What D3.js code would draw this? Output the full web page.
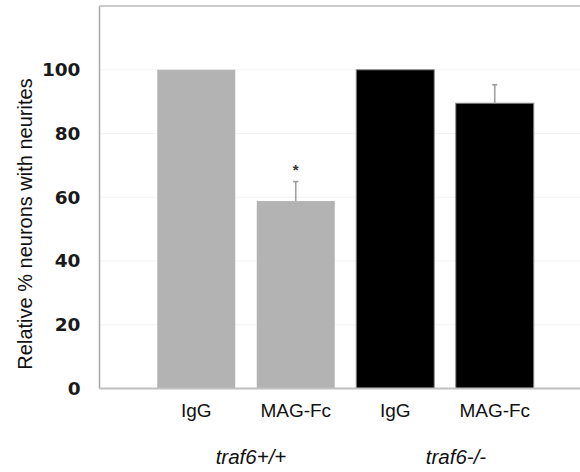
<!DOCTYPE html>
<html>
<head>
<meta charset="utf-8">
<script src="https://cdn.jsdelivr.net/npm/d3@7"></script>
<style>
  body { margin: 0; background: #fff; }
  svg { display: block; }
</style>
</head>
<body>
<svg id="chart" width="580" height="472"></svg>
<script>
// data
const barIds = ['wt-igg', 'wt-mag', 'ko-igg', 'ko-mag'];
const barLabels = ['IgG', 'MAG-Fc', 'IgG', 'MAG-Fc'];
const barGroups = ['traf6+/+', 'traf6+/+', 'traf6-/-', 'traf6-/-'];
const barValues = [100, 58.8, 100, 89.5];
const barErrors = [0, 6.1, 0, 5.8];
const starred = [false, true, false, false];
const groupNames = ['traf6+/+', 'traf6-/-'];
const yTicks = [0, 20, 40, 60, 80, 100];

const svg = d3.select('#chart');

const plotLeft = 99.5, plotTop = 6, plotBottom = 388.5, plotRight = 580;

const y = d3.scaleLinear().domain([0, 120]).range([plotBottom, plotTop]);
const x = d3.scaleBand()
    .domain(barIds)
    .range([146.5, 544.5])
    .paddingInner(0.216)
    .paddingOuter(0.108);

const groupColor = d3.scaleOrdinal()
    .domain(groupNames)
    .range(['#b3b3b3', '#000000']);

// faint grid lines
svg.append('g')
    .selectAll('line')
    .data(yTicks.filter(d => d > 0))
    .join('line')
    .attr('x1', plotLeft)
    .attr('x2', plotRight)
    .attr('y1', d => y(d))
    .attr('y2', d => y(d))
    .style('stroke', '#f3f3f3')
    .style('stroke-width', 1);

// bars
svg.append('g')
    .selectAll('rect')
    .data(barIds)
    .join('rect')
    .attr('x', d => x(d))
    .attr('y', (d, i) => y(barValues[i]))
    .attr('width', x.bandwidth())
    .attr('height', (d, i) => y(0) - y(barValues[i]))
    .style('fill', (d, i) => groupColor(barGroups[i]))
    .style('stroke', (d, i) => barGroups[i] === 'traf6-/-' ? '#8a8a8a' : 'none')
    .style('stroke-width', 1);

// error bars
const errs = svg.append('g');
barIds.forEach((id, i) => {
    if (barErrors[i] <= 0) return;
    const cx = x(id) + x.bandwidth() / 2;
    errs.append('line')
        .attr('x1', cx).attr('x2', cx)
        .attr('y1', y(barValues[i]))
        .attr('y2', y(barValues[i] + barErrors[i]))
        .style('stroke', '#a0a0a0')
        .style('stroke-width', 1.6);
    errs.append('line')
        .attr('x1', cx - 2.5).attr('x2', cx + 2.5)
        .attr('y1', y(barValues[i] + barErrors[i]))
        .attr('y2', y(barValues[i] + barErrors[i]))
        .style('stroke', '#999')
        .style('stroke-width', 1.6);
    if (starred[i]) {
        errs.append('text')
            .text('*')
            .attr('x', cx)
            .attr('y', y(barValues[i] + barErrors[i]) - 7)
            .attr('text-anchor', 'middle')
            .style('font-family', 'Liberation Sans, Arial, sans-serif')
            .style('font-weight', 'bold')
            .style('font-size', '15px')
            .style('fill', '#333');
    }
});

// frame
svg.append('line')
    .attr('x1', plotLeft).attr('x2', plotLeft)
    .attr('y1', plotTop).attr('y2', plotBottom)
    .style('stroke', '#a8a8a8').style('stroke-width', 1.5);
svg.append('line')
    .attr('x1', plotLeft).attr('x2', plotRight)
    .attr('y1', plotTop).attr('y2', plotTop)
    .style('stroke', '#cacaca').style('stroke-width', 2);
svg.append('line')
    .attr('x1', plotLeft).attr('x2', plotRight)
    .attr('y1', plotBottom).attr('y2', plotBottom)
    .style('stroke', '#c0c0c0').style('stroke-width', 2);

// y axis labels
const yAxis = d3.axisLeft(y).tickValues(yTicks).tickSize(0).tickPadding(19);
const gy = svg.append('g').attr('transform', `translate(${plotLeft},0)`).call(yAxis);
gy.select('.domain').remove();
gy.selectAll('text')
    .style('font-family', 'DejaVu Sans, Verdana, sans-serif')
    .style('font-weight', 'bold')
    .style('font-size', '18.5px')
    .style('fill', '#1a1a1a');

svg.append('text')
    .text('Relative % neurons with neurites')
    .attr('transform', 'translate(31.5,224) rotate(-90)')
    .attr('text-anchor', 'middle')
    .style('font-family', 'Liberation Sans, Arial, sans-serif')
    .style('font-size', '20px')
    .style('fill', '#111');

// x labels
svg.append('g')
    .selectAll('text')
    .data(barIds)
    .join('text')
    .text((d, i) => barLabels[i])
    .attr('x', d => x(d) + x.bandwidth() / 2)
    .attr('y', 417)
    .attr('text-anchor', 'middle')
    .style('font-family', 'Liberation Sans, Arial, sans-serif')
    .style('font-size', '19px')
    .style('fill', '#111');

// group labels
const groupX = {
    'traf6+/+': (x('wt-igg') + x('wt-mag') + x.bandwidth()) / 2 + 5,
    'traf6-/-': (x('ko-igg') + x('ko-mag') + x.bandwidth()) / 2 + 11
};
svg.append('g')
    .selectAll('text')
    .data(groupNames)
    .join('text')
    .text(d => d)
    .attr('x', d => groupX[d])
    .attr('y', 464)
    .attr('text-anchor', 'middle')
    .style('font-family', 'Liberation Sans, Arial, sans-serif')
    .style('font-style', 'italic')
    .style('font-size', '20.5px')
    .style('fill', '#111');
</script>
</body>
</html>
